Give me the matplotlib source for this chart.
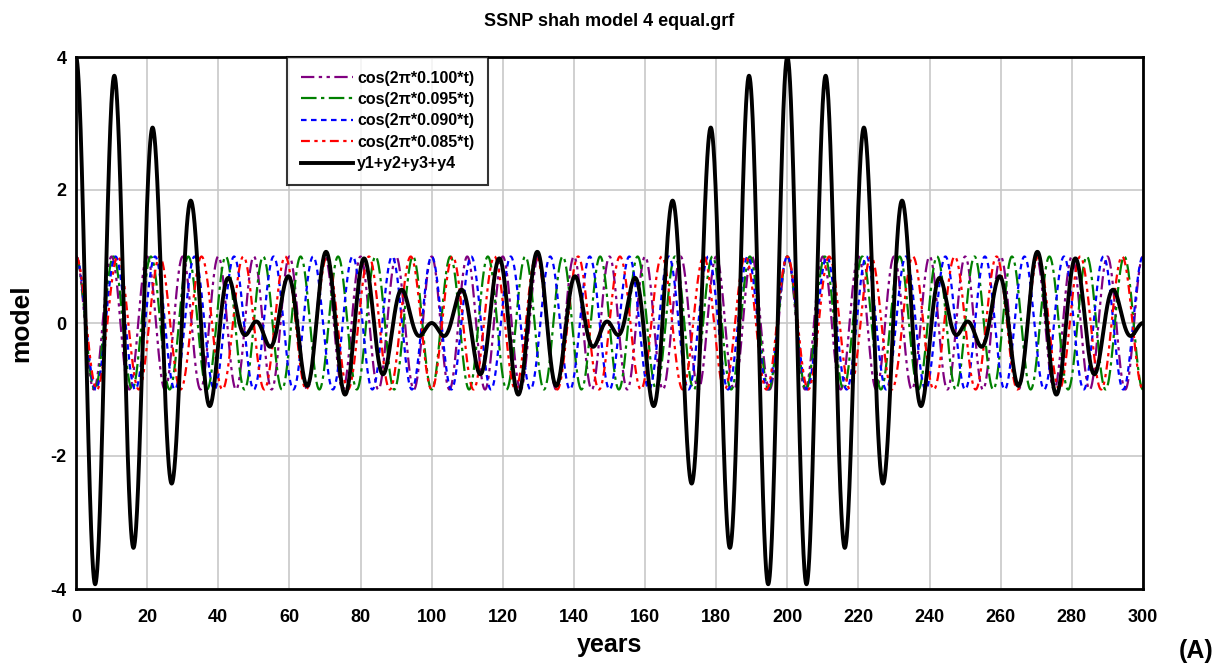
import numpy as np
import matplotlib
matplotlib.use("Agg")
import matplotlib.pyplot as plt

plt.rcParams['font.family'] = ['Liberation Sans', 'DejaVu Sans']
plt.rcParams['font.weight'] = 'bold'
plt.rcParams['axes.unicode_minus'] = False

# Data: frequencies of the four cosine components (from the legend)
freqs = [0.100, 0.095, 0.090, 0.085]
labels = ["cos(2\u03c0*0.100*t)", "cos(2\u03c0*0.095*t)", "cos(2\u03c0*0.090*t)", "cos(2\u03c0*0.085*t)"]
sum_label = "y1+y2+y3+y4"
t_start, t_end, t_step = 0.0, 300.0, 0.05
x_ticks = list(range(0, 301, 20))
y_ticks = [-4, -2, 0, 2, 4]

colors = ["#800080", "#008000", "#0000ff", "#ff0000"]
styles = [(0, (6, 2, 1.5, 2, 1.5, 2)), (0, (7, 2, 1.5, 2)), (0, (2.5, 2)), (0, (4, 2, 1.5, 2, 1.5, 2))]

t = np.arange(t_start, t_end + t_step / 2, t_step)
ys = [np.cos(2 * np.pi * f * t) for f in freqs]
total = np.sum(ys, axis=0)

fig = plt.figure(figsize=(12.25, 6.67), dpi=100)
ax = fig.add_axes([76 / 1225, 1 - 589 / 667, (1143 - 76) / 1225, (589 - 57) / 667])

for y, c, ls, lab in zip(ys, colors, styles, labels):
    ax.plot(t, y, color=c, linestyle=ls, linewidth=1.6, label=lab)
ax.plot(t, total, color="black", linewidth=2.8, label=sum_label)

ax.set_xlim(0, 300)
ax.set_ylim(-4, 4)
ax.set_xticks(x_ticks)
ax.set_yticks(y_ticks)
ax.grid(True, color="#c8c8c8", linewidth=1.2)
ax.set_axisbelow(True)
for s in ax.spines.values():
    s.set_linewidth(2)
ax.tick_params(length=0, labelsize=13)
ax.tick_params(axis='x', pad=14.5)
ax.tick_params(axis='y', pad=7)
for lbl in ax.get_xticklabels() + ax.get_yticklabels():
    lbl.set_fontweight('bold')

ax.set_xlabel("years", fontsize=18, fontweight='bold', labelpad=5)
ax.set_ylabel("model", fontsize=19, fontweight='bold', labelpad=12)
ax.set_title("SSNP shah model 4 equal.grf", fontsize=13, fontweight='bold', pad=22)

leg = ax.legend(loc="upper left", bbox_to_anchor=((287 - 76) / 1067, 1.0), frameon=True,
                fancybox=False, edgecolor="black", fontsize=11.5, handlelength=3.3,
                borderpad=0.85, labelspacing=0.4, handletextpad=0.25, borderaxespad=0)
leg.get_frame().set_linewidth(1.5)
for txt in leg.get_texts():
    txt.set_fontweight('bold')

fig.text(1196 / 1225, 1 - 651 / 667, "(A)", fontsize=18, fontweight='bold', ha='center', va='center')

fig.savefig("out.png", dpi=100)
